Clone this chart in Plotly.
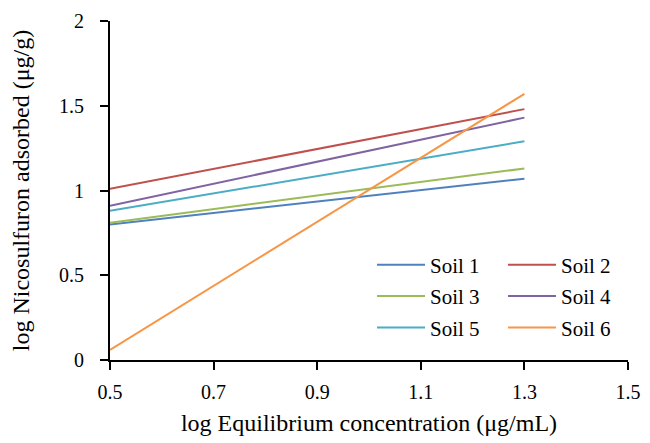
import plotly.graph_objects as go

x_vals = [0.5, 1.3]
soil_names = ["Soil 1", "Soil 2", "Soil 3", "Soil 4", "Soil 5", "Soil 6"]
soil1 = [0.80, 1.07]
soil2 = [1.01, 1.48]
soil3 = [0.81, 1.13]
soil4 = [0.91, 1.43]
soil5 = [0.88, 1.29]
soil6 = [0.06, 1.57]
series = [soil1, soil2, soil3, soil4, soil5, soil6]
colors = ["#4F81BD", "#C0504D", "#9BBB59", "#8064A2", "#4BACC6", "#F79646"]
x_ticks = [0.5, 0.7, 0.9, 1.1, 1.3, 1.5]
y_ticks = [0, 0.5, 1, 1.5, 2]

FONT = "Liberation Serif"

fig = go.Figure()
for i, (name, ys, c) in enumerate(zip(soil_names, series, colors)):
    fig.add_trace(go.Scatter(
        x=x_vals, y=ys, mode="lines", name=name,
        line=dict(color=c, width=2),
        legend="legend" if i % 2 == 0 else "legend2",
        legendgroup=name,
    ))

# page has an 8px body margin: figure drawn from (8, 8)
W, H = 642, 435
plot_l, plot_r, plot_t, plot_b = 102, 620, 13, 352.5
ph = plot_b - plot_t
pw = plot_r - plot_l
leg_top = 237
leg_common = dict(
    xref="paper", yref="paper", yanchor="top", xanchor="left",
    font=dict(family=FONT, size=21, color="black"),
    bgcolor="rgba(0,0,0,0)", tracegroupgap=1, itemwidth=48,
    traceorder="grouped",
)

fig.update_layout(
    width=W, height=H,
    margin=dict(l=plot_l, r=W - plot_r, t=plot_t, b=H - plot_b, autoexpand=False),
    paper_bgcolor="white", plot_bgcolor="white",
    font=dict(family=FONT, size=20, color="black"),
    showlegend=True,
    legend=dict(x=(364 - plot_l) / pw, y=(plot_b - leg_top) / ph, **leg_common),
    legend2=dict(x=(495 - plot_l) / pw, y=(plot_b - leg_top) / ph, **leg_common),
    xaxis=dict(
        range=[0.5, 1.5], tickvals=x_ticks, ticktext=[f"{v:g}" for v in x_ticks],
        showgrid=False, zeroline=False, showline=True, linecolor="black", linewidth=2,
        ticks="outside", ticklen=8, tickwidth=2, tickcolor="black",
        ticklabelstandoff=5,
        tickfont=dict(family=FONT, size=20),
        title=dict(text="log Equilibrium concentration (μg/mL)",
                   font=dict(family=FONT, size=24), standoff=12),
    ),
    yaxis=dict(
        range=[0, 2], tickvals=y_ticks, ticktext=[f"{v:g}" for v in y_ticks],
        showgrid=False, zeroline=False, showline=True, linecolor="black", linewidth=2,
        ticks="outside", ticklen=8, tickwidth=2, tickcolor="black",
        ticklabelstandoff=12,
        tickfont=dict(family=FONT, size=20),
        title=dict(text="log Nicosulfuron adsorbed (μg/g)",
                   font=dict(family=FONT, size=24), standoff=24),
    ),
)

fig.write_html("out.html")
